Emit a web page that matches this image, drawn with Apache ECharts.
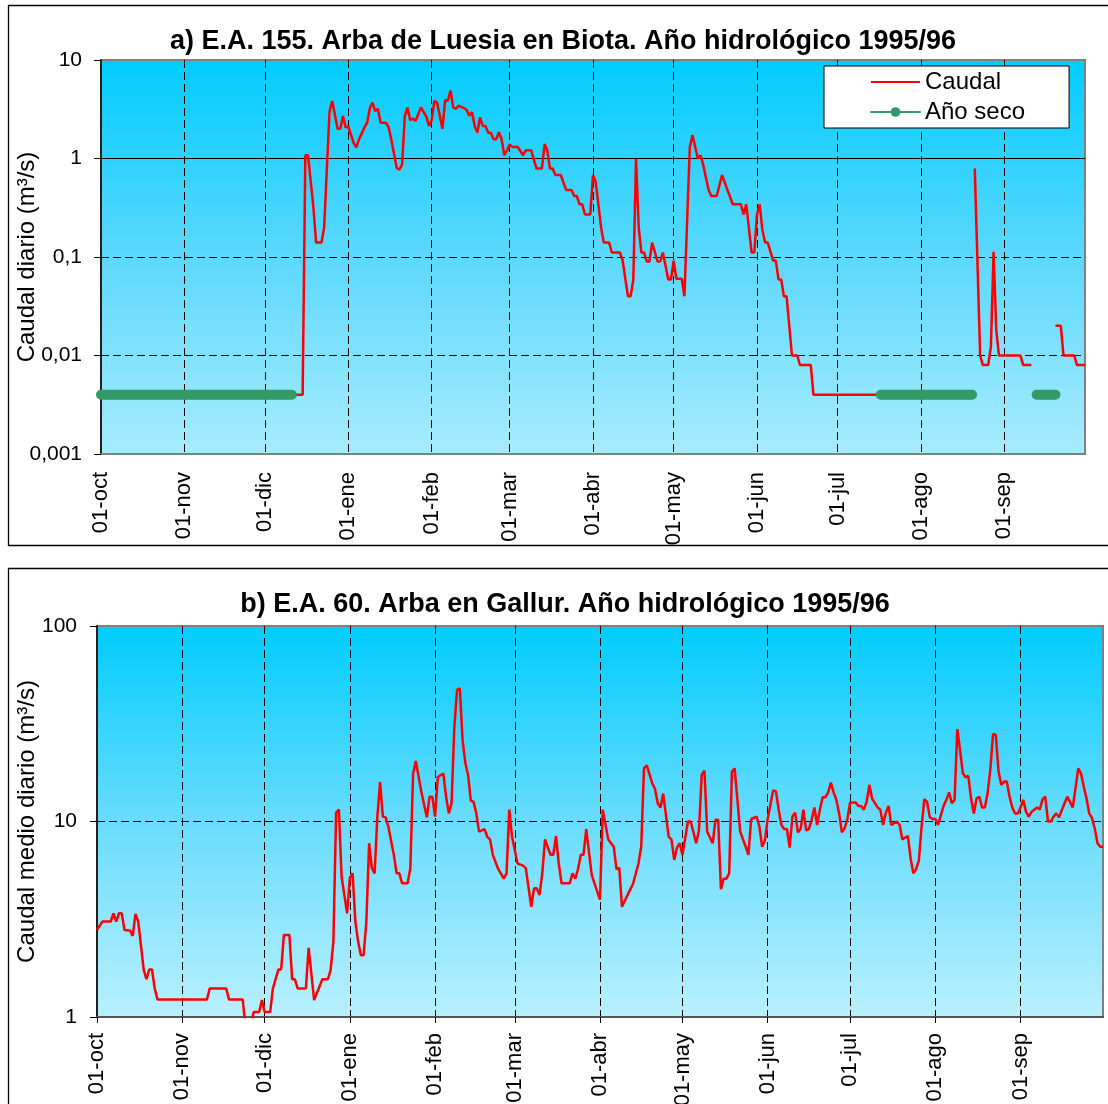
<!DOCTYPE html>
<html>
<head>
<meta charset="utf-8">
<script src="https://cdn.jsdelivr.net/npm/echarts@6/dist/echarts.min.js"></script>
<style>
  html, body { margin: 0; padding: 0; background: #fff; }
  #chart { width: 1108px; height: 1104px; }
</style>
</head>
<body>
<div id="chart"></div>
<script>
// Hydrological year 1995/96: day 0 = 01-oct-1995 ... day 366 = 01-oct-1996
const dayCount = 367;
const monthStarts = [0, 31, 61, 92, 123, 152, 183, 213, 244, 274, 305, 336];
const monthLabels = ['01-oct', '01-nov', '01-dic', '01-ene', '01-feb', '01-mar',
                     '01-abr', '01-may', '01-jun', '01-jul', '01-ago', '01-sep'];

// a) E.A. 155 Arba de Luesia en Biota — daily flow (m3/s), null = no record
const biotaDay = [72, 75, 76, 77, 79, 80, 82, 83, 85, 86, 88, 89, 90, 91, 92, 94, 95, 96, 98, 99,
  100, 101, 102, 103, 104, 106, 107, 108, 110, 111, 112, 113, 114, 115, 116, 117, 119, 121, 122, 123,
  124, 125, 127, 128, 129, 130, 131, 132, 133, 135, 136, 137, 138, 139, 140, 141, 142, 143, 144, 145,
  146, 147, 148, 149, 150, 151, 152, 153, 155, 157, 158, 160, 162, 164, 165, 166, 167, 168, 169, 171,
  173, 175, 176, 177, 178, 179, 180, 182, 183, 184, 186, 187, 189, 190, 193, 194, 196, 197, 198, 199,
  200, 201, 202, 203, 204, 205, 207, 208, 209, 211, 212, 213, 214, 216, 217, 219, 220, 222, 223, 224,
  226, 227, 229, 231, 233, 235, 238, 239, 240, 242, 243, 244, 245, 246, 247, 248, 250, 251, 252, 253,
  254, 255, 257, 259, 260, 264, 265, 289, 290, 325, 327, 328, 330, 331, 332, 333, 334, 342, 343, 346,
  347, 355, 357, 358, 362, 363, 366];
const biotaFlow = [0.004, 0.004, 1.08, 1.08, 0.32, 0.14, 0.14, 0.2, 3.0, 3.84, 2.0, 2.0, 2.7, 2.07, 2.1, 1.43, 1.3, 1.57, 2.07, 2.31,
  3.23, 3.69, 3.03, 3.2, 2.31, 2.31, 2.07, 1.54, 0.8, 0.77, 0.87, 2.7, 3.3, 2.45, 2.55, 2.4, 3.3, 2.66, 2.14, 2.45,
  3.84, 3.7, 2.0, 3.93, 3.85, 4.9, 3.3, 3.18, 3.44, 3.25, 3.1, 2.72, 2.95, 2.14, 1.83, 2.62, 2.14, 2.14, 1.83, 1.83,
  1.57, 1.57, 1.85, 1.57, 1.08, 1.2, 1.39, 1.31, 1.31, 1.08, 1.21, 1.21, 0.79, 0.79, 1.4, 1.21, 0.79, 0.79, 0.68, 0.68,
  0.48, 0.48, 0.416, 0.416, 0.343, 0.343, 0.27, 0.27, 0.68, 0.58, 0.2, 0.14, 0.14, 0.111, 0.111, 0.093, 0.04, 0.04, 0.059, 0.995,
  0.2, 0.111, 0.111, 0.09, 0.09, 0.14, 0.09, 0.09, 0.111, 0.059, 0.059, 0.092, 0.06, 0.06, 0.04, 1.3, 1.73, 1.0, 1.08, 0.86,
  0.48, 0.416, 0.416, 0.68, 0.48, 0.343, 0.343, 0.27, 0.343, 0.111, 0.111, 0.27, 0.343, 0.188, 0.14, 0.14, 0.092, 0.092, 0.059, 0.059,
  0.04, 0.04, 0.01, 0.01, 0.008, 0.008, 0.004, 0.004, null, 0.79, 0.01, 0.008, 0.008, 0.0123, 0.113, 0.018, 0.01, 0.01, 0.008, 0.008,
  null, 0.02, 0.02, 0.01, 0.01, 0.008, 0.008];

// Dry-year reference periods drawn at a fixed low level
const drySpans = [[0, 71], [290, 324], [348, 355]];
const dryLevel = 0.004;

// b) E.A. 60 Arba en Gallur — mean daily flow (m3/s)
const gallurDay = [0, 2, 5, 6, 7, 8, 9, 10, 12, 13, 14, 15, 17, 18, 19, 20, 21, 22, 40, 41,
  47, 48, 53, 54, 56, 57, 59, 60, 61, 63, 64, 66, 67, 68, 70, 71, 72, 73, 76, 77,
  79, 82, 84, 85, 86, 87, 88, 89, 91, 92, 93, 94, 95, 96, 97, 98, 99, 100, 101, 102,
  103, 104, 105, 106, 108, 109, 110, 111, 113, 114, 115, 116, 118, 120, 121, 122, 123, 124, 126, 127,
  128, 129, 130, 131, 132, 133, 134, 135, 136, 137, 138, 139, 141, 142, 143, 144, 146, 148, 149, 150,
  151, 153, 155, 156, 158, 159, 160, 161, 162, 163, 165, 166, 167, 168, 169, 172, 173, 174, 175, 176,
  177, 178, 180, 182, 183, 184, 186, 188, 189, 190, 191, 193, 195, 197, 198, 199, 200, 202, 203, 204,
  205, 206, 208, 209, 210, 211, 212, 213, 215, 216, 218, 219, 220, 221, 222, 224, 225, 226, 227, 228,
  229, 230, 231, 232, 234, 236, 237, 238, 240, 241, 242, 243, 244, 246, 247, 248, 249, 250, 251, 252,
  253, 254, 255, 256, 257, 258, 259, 260, 261, 262, 263, 264, 265, 266, 267, 268, 269, 270, 271, 272,
  273, 274, 276, 277, 278, 279, 280, 281, 282, 284, 285, 286, 287, 288, 289, 291, 292, 293, 295, 296,
  297, 298, 299, 300, 301, 302, 303, 304, 305, 306, 308, 309, 310, 311, 312, 313, 314, 315, 316, 317,
  318, 319, 320, 321, 322, 323, 324, 325, 326, 327, 328, 329, 330, 331, 332, 333, 334, 335, 336, 337,
  338, 339, 340, 342, 343, 344, 345, 346, 347, 348, 349, 350, 352, 353, 354, 355, 357, 358, 359, 360,
  361, 362, 363, 364, 365, 366];
const gallurFlow = [2.79, 3.08, 3.08, 3.39, 3.08, 3.39, 3.39, 2.79, 2.77, 2.6, 3.37, 3.08, 1.74, 1.56, 1.75, 1.75, 1.4, 1.23, 1.23, 1.4,
  1.4, 1.23, 1.23, 0.9, 0.9, 1.06, 1.06, 1.22, 1.06, 1.06, 1.4, 1.75, 1.75, 2.63, 2.63, 1.56, 1.56, 1.4, 1.4, 2.26,
  1.22, 1.56, 1.56, 1.74, 2.43, 11.1, 11.5, 5.2, 3.39, 5.16, 5.43, 3.08, 2.43, 2.07, 2.07, 3.08, 7.74, 5.77, 5.43, 10.6,
  15.9, 10.6, 10.5, 9.4, 6.75, 5.43, 5.43, 4.83, 4.83, 5.77, 17.6, 20.4, 14.2, 10.5, 13.4, 13.4, 10.6, 16.9, 17.6, 13.4,
  11.0, 12.4, 30.5, 47.1, 48, 26.1, 19.9, 17.3, 12.8, 12.6, 11.0, 8.87, 9.15, 8.35, 8.1, 6.75, 5.7, 5.1, 5.43, 11.5,
  8.35, 6.1, 5.95, 5.77, 3.66, 4.55, 4.55, 4.2, 5.43, 8.1, 6.75, 6.75, 8.43, 6.1, 4.83, 4.83, 5.43, 5.1, 5.7, 6.75,
  6.75, 9.15, 5.32, 4.38, 3.98, 11.5, 8.1, 7.43, 5.7, 5.8, 3.66, 4.2, 4.79, 6.1, 7.43, 18.7, 19.4, 15.7, 14.7, 12.4,
  11.8, 13.9, 8.35, 8.1, 6.36, 7.35, 7.74, 6.75, 10, 10, 7.74, 9.0, 17.3, 18.2, 8.87, 7.74, 10.2, 10.2, 4.5, 5.1,
  5.1, 5.43, 18, 18.7, 8.87, 7.43, 6.75, 10.3, 10.6, 9.4, 7.43, 8.0, 10.3, 14.4, 14.3, 11.5, 9.6, 9.15, 9.15, 7.35,
  10.6, 11.1, 8.8, 9.15, 11.5, 9.0, 9.15, 10.2, 11.8, 9.6, 11.5, 13.3, 13.3, 14.1, 15.8, 14.1, 12.9, 11.0, 8.8, 9.25,
  10.3, 12.5, 12.5, 12, 12, 11.5, 12.6, 15.4, 13.1, 11.8, 11.5, 9.6, 11.1, 12, 9.6, 10, 9.6, 8.1, 8.43, 6.49,
  5.43, 5.7, 6.3, 9.4, 13.0, 12.6, 10.5, 10.3, 10.3, 9.6, 12, 12.9, 14.1, 12.4, 12.9, 29.7, 23.2, 17.7, 16.8, 17.1,
  13.1, 11.0, 13.1, 13.4, 11.8, 11.8, 13.9, 18.4, 28, 27.8, 18, 15.4, 16, 16, 13.4, 11.8, 11, 11, 11.8, 12.9,
  11.2, 10.6, 11.2, 11.8, 11.5, 13, 13.4, 10, 10, 10.6, 11, 10.5, 12.4, 13.4, 12.6, 11.8, 18.7, 17.6, 15.1, 13.1,
  11, 10.4, 9.2, 7.74, 7.43, 7.43];

// Log-axis tick labels (decimal comma), keyed by decade exponent
const biotaTickExp = [-3, -2, -1, 0, 1];
const biotaTickText = ['0,001', '0,01', '0,1', '1', '10'];
const gallurTickExp = [0, 1, 2];
const gallurTickText = ['1', '10', '100'];

const FONT = "'Liberation Sans', Arial, Helvetica, sans-serif";
const dayCategories = Array.from({ length: dayCount }, (_, i) => String(i));

function pairs(days, vals) {
  return days.map((d, k) => [d, vals[k] == null ? '-' : vals[k]]);
}
function dryData() {
  const out = [];
  drySpans.forEach((s, k) => {
    if (k > 0) out.push([s[0] - 1, '-']);
    out.push([s[0], dryLevel], [s[1], dryLevel]);
  });
  return out;
}
function tickFormatter(exps, texts) {
  return v => {
    const e = Math.round(Math.log10(v));
    const k = exps.indexOf(e);
    return k >= 0 ? texts[k] : '';
  };
}
const isMonthStart = i => monthStarts.indexOf(i) >= 0;
const monthLabel = (v, i) => {
  const k = monthStarts.indexOf(Number(v));
  return k >= 0 ? monthLabels[k] : '';
};

function plotGradient(mid, bottom) {
  return {
    type: 'linear', x: 0, y: 0, x2: 0, y2: 1,
    colorStops: [
      { offset: 0, color: 'rgb(0,204,255)' },
      { offset: 0.5, color: mid },
      { offset: 1, color: bottom }
    ]
  };
}

function xAxisFor(gridIndex, opts) {
  return {
    type: 'category', gridIndex, data: dayCategories, boundaryGap: false,
    axisLine: { show: true, onZero: false, lineStyle: { color: opts.lineColor, width: 2 } },
    axisTick: { show: opts.ticks, interval: isMonthStart, length: 6, lineStyle: { color: '#000', width: 1 } },
    axisLabel: {
      interval: isMonthStart, formatter: monthLabel, rotate: 90, hideOverlap: false,
      fontSize: 22, fontFamily: FONT, color: '#000', margin: opts.labelMargin
    },
    splitLine: {
      show: true, interval: i => i > 0 && isMonthStart(i),
      lineStyle: { color: '#000', width: 1, type: [8, 4] }
    }
  };
}
function yAxisFor(gridIndex, opts) {
  return {
    type: 'log', logBase: 10, gridIndex, min: opts.min, max: opts.max,
    name: opts.name, nameLocation: 'middle', nameGap: opts.nameGap, nameRotate: 90,
    nameMoveOverlap: false,
    nameTextStyle: { fontSize: 24, fontFamily: FONT, color: '#000' },
    axisLine: { show: true, lineStyle: { color: '#000', width: 1.5 } },
    axisTick: { show: true, length: 7, lineStyle: { color: '#000', width: 1 } },
    axisLabel: {
      formatter: tickFormatter(opts.exps, opts.texts),
      fontSize: 21, fontFamily: FONT, color: '#000', margin: opts.labelMargin
    },
    splitLine: {
      show: true, showMinLine: false, showMaxLine: false,
      lineStyle: { color: '#000', width: 1, type: [8, 4] }
    }
  };
}

const chart = echarts.init(document.getElementById('chart'), null, { renderer: 'canvas' });

chart.setOption({
  backgroundColor: '#fff',
  animation: false,
  graphic: [
    { type: 'rect', silent: true, z: -10, shape: { x: 8.5, y: 5.5, width: 1120, height: 540 },
      style: { fill: 'none', stroke: '#000', lineWidth: 1.3 } },
    { type: 'rect', silent: true, z: -10, shape: { x: 8.5, y: 568.5, width: 1120, height: 600 },
      style: { fill: 'none', stroke: '#000', lineWidth: 1.3 } }
  ],
  title: [
    { text: 'a) E.A. 155. Arba de Luesia en Biota. Año hidrológico 1995/96',
      left: 563, top: 28, textAlign: 'center', padding: 0,
      textStyle: { fontSize: 27, fontWeight: 'bold', fontFamily: FONT, color: '#000' } },
    { text: 'b) E.A. 60. Arba en Gallur. Año hidrológico 1995/96',
      left: 565, top: 591, textAlign: 'center', padding: 0,
      textStyle: { fontSize: 27, fontWeight: 'bold', fontFamily: FONT, color: '#000' } }
  ],
  legend: {
    orient: 'vertical', left: 824, top: 66,
    padding: [4, 44, 4, 46], itemGap: 6, itemWidth: 49, itemHeight: 12,
    backgroundColor: '#fff', borderColor: '#000', borderWidth: 1, borderRadius: 0,
    lineStyle: { width: 2 },
    textStyle: { fontSize: 24, fontFamily: FONT, color: '#000' },
    data: [
      { name: 'Caudal', itemStyle: { opacity: 0 } },
      { name: 'Año seco' }
    ]
  },
  grid: [
    { left: 101, top: 60, width: 984, height: 394, show: true,
      containLabel: false, outerBoundsMode: 'none',
      backgroundColor: plotGradient('rgb(92,216,253)', 'rgb(168,236,254)'),
      borderColor: '#808080', borderWidth: 2 },
    { left: 97, top: 626, width: 1006, height: 391, show: true,
      containLabel: false, outerBoundsMode: 'none',
      backgroundColor: plotGradient('rgb(105,220,253)', 'rgb(185,240,254)'),
      borderColor: '#808080', borderWidth: 2 }
  ],
  xAxis: [
    xAxisFor(0, { lineColor: '#808080', ticks: false, labelMargin: 18 }),
    xAxisFor(1, { lineColor: '#555', ticks: true, labelMargin: 16 })
  ],
  yAxis: [
    yAxisFor(0, { min: 0.001, max: 10, exps: biotaTickExp, texts: biotaTickText,
      name: 'Caudal diario (m³/s)', nameGap: 62, labelMargin: 19 }),
    yAxisFor(1, { min: 1, max: 100, exps: gallurTickExp, texts: gallurTickText,
      name: 'Caudal medio diario (m³/s)', nameGap: 58, labelMargin: 20 })
  ],
  series: [
    {
      name: 'Caudal', type: 'line', xAxisIndex: 0, yAxisIndex: 0,
      data: pairs(biotaDay, biotaFlow), symbol: 'none', connectNulls: false,
      lineStyle: { color: '#ff0000', width: 2.5 }, itemStyle: { color: '#ff0000' },
      z: 3,
      markLine: {
        silent: true, symbol: ['none', 'none'], z: 1,
        label: { show: false },
        lineStyle: { color: '#000', type: 'solid', width: 1 },
        data: [{ yAxis: 1 }]
      }
    },
    {
      name: 'Año seco', type: 'line', xAxisIndex: 0, yAxisIndex: 0,
      data: dryData(), symbol: 'circle', showSymbol: false, connectNulls: false,
      lineStyle: { color: '#339966', width: 10, cap: 'round' }, itemStyle: { color: '#339966' },
      z: 4
    },
    {
      name: 'Caudal b', type: 'line', xAxisIndex: 1, yAxisIndex: 1,
      data: pairs(gallurDay, gallurFlow), symbol: 'none',
      lineStyle: { color: '#ff0000', width: 2.5 }, itemStyle: { color: '#ff0000' },
      z: 3
    }
  ]
});
</script>
</body>
</html>
